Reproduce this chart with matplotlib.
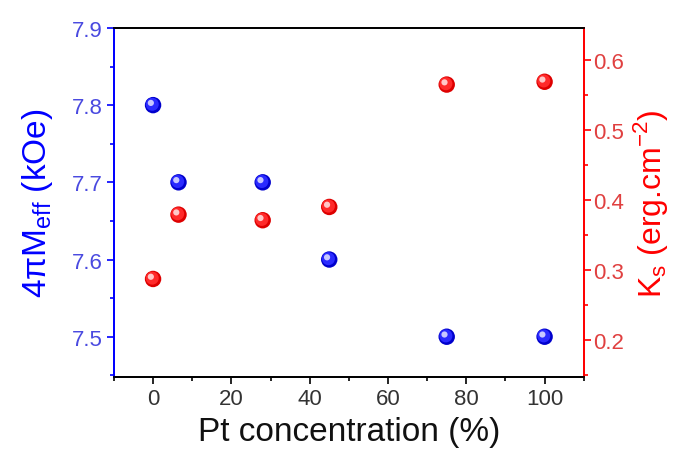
import matplotlib
matplotlib.use("Agg")
import matplotlib.pyplot as plt
import matplotlib.transforms as mtransforms
from matplotlib.ticker import MultipleLocator

plt.rcParams['font.family'] = ['Liberation Sans', 'DejaVu Sans']
plt.rcParams['mathtext.fontset'] = 'custom'
plt.rcParams['mathtext.rm'] = 'Liberation Sans'

pt_conc = [0, 6.5, 28, 45, 75, 100]
meff = [7.8, 7.7, 7.7, 7.6, 7.5, 7.5]
ks = [0.287, 0.379, 0.371, 0.390, 0.565, 0.569]

BLUE = '#0000ff'
RED = '#ff0000'

fig = plt.figure(figsize=(6.78, 4.52), dpi=100)
ax = fig.add_axes([0.168, 0.164, 0.693, 0.772])
ax2 = ax.twinx()


def shaded(axis, x, y, base, mid, light):
    axis.scatter(x, y, s=140, color=base, edgecolors='none', zorder=3)
    axis.scatter(x, y, s=88, color=mid, edgecolors='none', zorder=4,
                 transform=mtransforms.offset_copy(axis.transData, fig=fig, x=-0.6, y=0.6, units='points'))
    axis.scatter(x, y, s=20, color=light, edgecolors='none', zorder=5,
                 transform=mtransforms.offset_copy(axis.transData, fig=fig, x=-1.6, y=1.6, units='points'))


shaded(ax, pt_conc, meff, '#0000cc', '#2a2aff', '#c8c8ff')
shaded(ax2, pt_conc, ks, '#dd0000', '#ff2a2a', '#ffc8c8')

ax.set_xlim(-10, 110)
ax.set_ylim(7.448, 7.9)
ax2.set_ylim(0.147, 0.646)

ax.xaxis.set_major_locator(MultipleLocator(20))
ax.xaxis.set_minor_locator(MultipleLocator(10))
ax.yaxis.set_major_locator(MultipleLocator(0.1))
ax.yaxis.set_minor_locator(MultipleLocator(0.05))
ax2.yaxis.set_major_locator(MultipleLocator(0.1))
ax2.yaxis.set_minor_locator(MultipleLocator(0.05))

for a in (ax, ax2):
    for sp in a.spines.values():
        sp.set_linewidth(1.3)
ax2.spines['left'].set_color(BLUE)
ax2.spines['right'].set_color(RED)
ax2.spines['top'].set_color('black')
ax2.spines['bottom'].set_color('black')
ax.spines['left'].set_color(BLUE)
ax.spines['right'].set_color(RED)

ax.tick_params(axis='x', which='major', direction='out', length=5, width=1.2,
               labelsize=16, colors='black', labelcolor='#333333', top=False, pad=3)
ax.tick_params(axis='x', which='minor', direction='out', length=3, width=1.2, top=False)
ax.tick_params(axis='y', which='major', direction='out', length=5, width=1.2,
               labelsize=16, color=BLUE, labelcolor='#4a4ae0', pad=3)
ax.tick_params(axis='y', which='minor', direction='out', length=3, width=1.2, color=BLUE)
ax2.tick_params(axis='y', which='major', direction='out', length=5, width=1.2,
                labelsize=16, color=RED, labelcolor='#e04040', pad=2)
ax2.tick_params(axis='y', which='minor', direction='out', length=3, width=1.2, color=RED)

ax.set_xlabel('Pt concentration (%)', fontsize=24, color='#111111', labelpad=5)
ax.set_ylabel(r'4πM$_\mathregular{eff}$ (kOe)', fontsize=24, color=BLUE, labelpad=12)
ax2.set_ylabel(r'K$_\mathregular{s}$ (erg.cm$^\mathregular{-2}$)', fontsize=23, color=RED, labelpad=5)

fig.savefig('out.png', dpi=100, facecolor='white')
